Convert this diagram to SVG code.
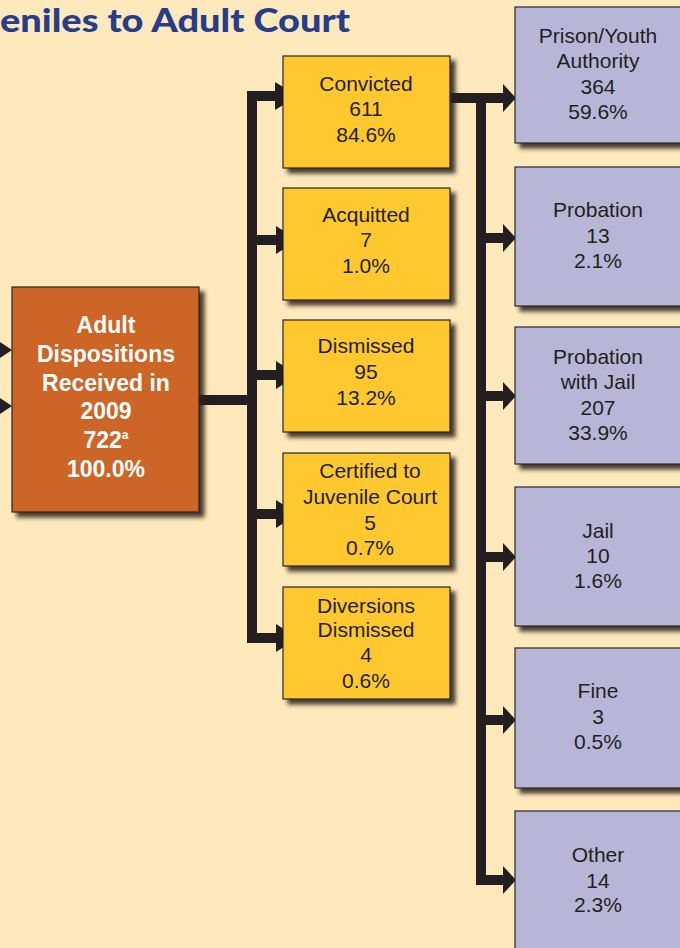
<svg xmlns="http://www.w3.org/2000/svg" width="680" height="948" viewBox="0 0 680 948">
<style>
.bg{fill:#FEE9BC}
.box{stroke:#2a2526;stroke-width:1.2;filter:url(#sh)}
.or{fill:#CC6528}
.ye{fill:#FEC82F}
.pu{fill:#B8B6D6}
.wire{fill:none;stroke:#231F20;stroke-width:10;stroke-linejoin:miter;stroke-linecap:butt}
.head{fill:#231F20}
.t{font-family:"Liberation Sans",Arial,sans-serif;font-size:21px;fill:#231F20;text-anchor:middle}
.tw{font-family:"Liberation Sans",Arial,sans-serif;font-size:23px;font-weight:bold;fill:#FFFFFF;text-anchor:middle}
.title{font-family:Lato,"Open Sans",sans-serif;font-size:33px;font-weight:900;fill:#263E8A}
</style>
<defs>
<filter id="sh" x="-10%" y="-10%" width="130%" height="130%">
<feGaussianBlur in="SourceAlpha" stdDeviation="2"/>
<feOffset dx="5" dy="5" result="b"/>
<feFlood flood-color="#2a2218" flood-opacity="0.85"/>
<feComposite in2="b" operator="in"/>
<feMerge><feMergeNode/><feMergeNode in="SourceGraphic"/></feMerge>
</filter>
</defs>
<rect class="bg" x="0" y="0" width="680" height="948"/>
<text class="title" x="0" y="32" textLength="350" lengthAdjust="spacingAndGlyphs">eniles to Adult Court</text>

<g id="connectors">
<polygon class="head" points="0,342 12,350 0,358"/>
<polygon class="head" points="0,398 12,406 0,414"/>
<path class="wire" d="M199,400 H257"/>
<path class="wire" d="M280,96 H252 V638 H280"/>
<path class="wire" d="M252,240 H280"/>
<path class="wire" d="M252,375 H280"/>
<path class="wire" d="M252,514 H280"/>
<polygon class="head" points="275,82 298,96 275,110"/>
<polygon class="head" points="276,226 298,240 276,254"/>
<polygon class="head" points="276,361 298,375 276,389"/>
<polygon class="head" points="276,500 298,514 276,528"/>
<polygon class="head" points="276,624 298,638 276,652"/>
<path class="wire" d="M450,98 H505"/>
<path class="wire" d="M505,880 H481 V98"/>
<path class="wire" d="M481,238 H505"/>
<path class="wire" d="M481,396 H505"/>
<path class="wire" d="M481,557 H505"/>
<path class="wire" d="M481,720 H505"/>
<polygon class="head" points="503,84 516,98 503,112"/>
<polygon class="head" points="503,224 516,238 503,252"/>
<polygon class="head" points="503,382 516,396 503,410"/>
<polygon class="head" points="503,543 516,557 503,571"/>
<polygon class="head" points="503,706 516,720 503,734"/>
<polygon class="head" points="503,866 516,880 503,894"/>
</g>

<g id="adult-dispositions">
<rect class="box or" x="12" y="287" width="187" height="225"/>
<text class="tw" x="106" y="333">Adult</text>
<text class="tw" x="106" y="362">Dispositions</text>
<text class="tw" x="106" y="391">Received in</text>
<text class="tw" x="106" y="419">2009</text>
<text class="tw" x="106" y="448">722<tspan font-size="12" dy="-9">a</tspan></text>
<text class="tw" x="106" y="477">100.0%</text>
</g>

<g id="convicted">
<rect class="box ye" x="283" y="56" width="167" height="112"/>
<text class="t" x="366" y="91">Convicted</text>
<text class="t" x="366" y="116">611</text>
<text class="t" x="366" y="142">84.6%</text>
</g>
<g id="acquitted">
<rect class="box ye" x="283" y="188" width="167" height="112"/>
<text class="t" x="366" y="222">Acquitted</text>
<text class="t" x="366" y="247">7</text>
<text class="t" x="366" y="273">1.0%</text>
</g>
<g id="dismissed">
<rect class="box ye" x="283" y="320" width="167" height="112"/>
<text class="t" x="366" y="353">Dismissed</text>
<text class="t" x="366" y="379">95</text>
<text class="t" x="366" y="405">13.2%</text>
</g>
<g id="certified">
<rect class="box ye" x="283" y="453" width="167" height="113"/>
<text class="t" x="370" y="478">Certified to</text>
<text class="t" x="370" y="504">Juvenile Court</text>
<text class="t" x="370" y="530">5</text>
<text class="t" x="370" y="555">0.7%</text>
</g>
<g id="diversions">
<rect class="box ye" x="283" y="587" width="167" height="112"/>
<text class="t" x="366" y="613">Diversions</text>
<text class="t" x="366" y="637">Dismissed</text>
<text class="t" x="366" y="662">4</text>
<text class="t" x="366" y="688">0.6%</text>
</g>

<g id="prison">
<rect class="box pu" x="515" y="7" width="168" height="136"/>
<text class="t" x="598" y="43">Prison/Youth</text>
<text class="t" x="598" y="68">Authority</text>
<text class="t" x="598" y="94">364</text>
<text class="t" x="598" y="119">59.6%</text>
</g>
<g id="probation">
<rect class="box pu" x="515" y="167" width="168" height="139"/>
<text class="t" x="598" y="217">Probation</text>
<text class="t" x="598" y="243">13</text>
<text class="t" x="598" y="268">2.1%</text>
</g>
<g id="probation-jail">
<rect class="box pu" x="515" y="327" width="168" height="137"/>
<text class="t" x="598" y="364">Probation</text>
<text class="t" x="598" y="389">with Jail</text>
<text class="t" x="598" y="415">207</text>
<text class="t" x="598" y="440">33.9%</text>
</g>
<g id="jail">
<rect class="box pu" x="515" y="487" width="168" height="139"/>
<text class="t" x="598" y="538">Jail</text>
<text class="t" x="598" y="563">10</text>
<text class="t" x="598" y="588">1.6%</text>
</g>
<g id="fine">
<rect class="box pu" x="515" y="648" width="168" height="140"/>
<text class="t" x="598" y="698">Fine</text>
<text class="t" x="598" y="724">3</text>
<text class="t" x="598" y="749">0.5%</text>
</g>
<g id="other">
<rect class="box pu" x="515" y="811" width="168" height="150"/>
<text class="t" x="598" y="862">Other</text>
<text class="t" x="598" y="888">14</text>
<text class="t" x="598" y="912">2.3%</text>
</g>
</svg>
